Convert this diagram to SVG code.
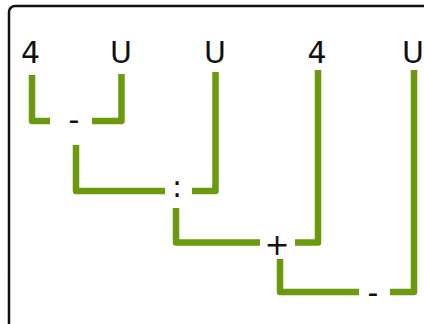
<svg xmlns="http://www.w3.org/2000/svg" width="424" height="324" viewBox="0 0 424 324">
<style>
.lbl{font-family:"DejaVu Sans","Liberation Sans",sans-serif;font-size:30px;fill:#111;text-anchor:middle}
.op{font-family:"DejaVu Sans","Liberation Sans",sans-serif;font-size:30px;fill:#111;text-anchor:middle}
.wire{fill:none;stroke:#6b9a0f;stroke-width:6.5;stroke-linejoin:round;stroke-linecap:butt}
</style>
<rect x="0" y="0" width="424" height="324" fill="#fff"/>
<rect id="frame" x="9" y="6" width="440" height="340" rx="6" fill="none" stroke="#111" stroke-width="2.5"/>
<g id="connectors">
<path class="wire" d="M32,75 V121 H50"/>
<path class="wire" d="M92,121 H121.5 V74"/>
<path class="wire" d="M76,145 V191 H165"/>
<path class="wire" d="M192,191 H215.5 V72"/>
<path class="wire" d="M176,208 V242.5 H260"/>
<path class="wire" d="M295,242.5 H318 V70"/>
<path class="wire" d="M280,259 V292 H359"/>
<path class="wire" d="M390,292 H414 V70"/>
</g>
<g id="n1"><text class="lbl" x="30.5" y="63">4</text></g>
<g id="n2"><text class="lbl" x="121" y="63">U</text></g>
<g id="n3"><text class="lbl" x="215" y="63">U</text></g>
<g id="n4"><text class="lbl" x="317" y="63">4</text></g>
<g id="n5"><text class="lbl" x="413" y="63">U</text></g>
<g id="op1"><text class="op" x="74" y="130">-</text></g>
<g id="op2"><text class="op" x="177" y="197">:</text></g>
<g id="op3"><text class="op" x="277" y="255">+</text></g>
<g id="op4"><text class="op" x="373" y="303">-</text></g>
</svg>
